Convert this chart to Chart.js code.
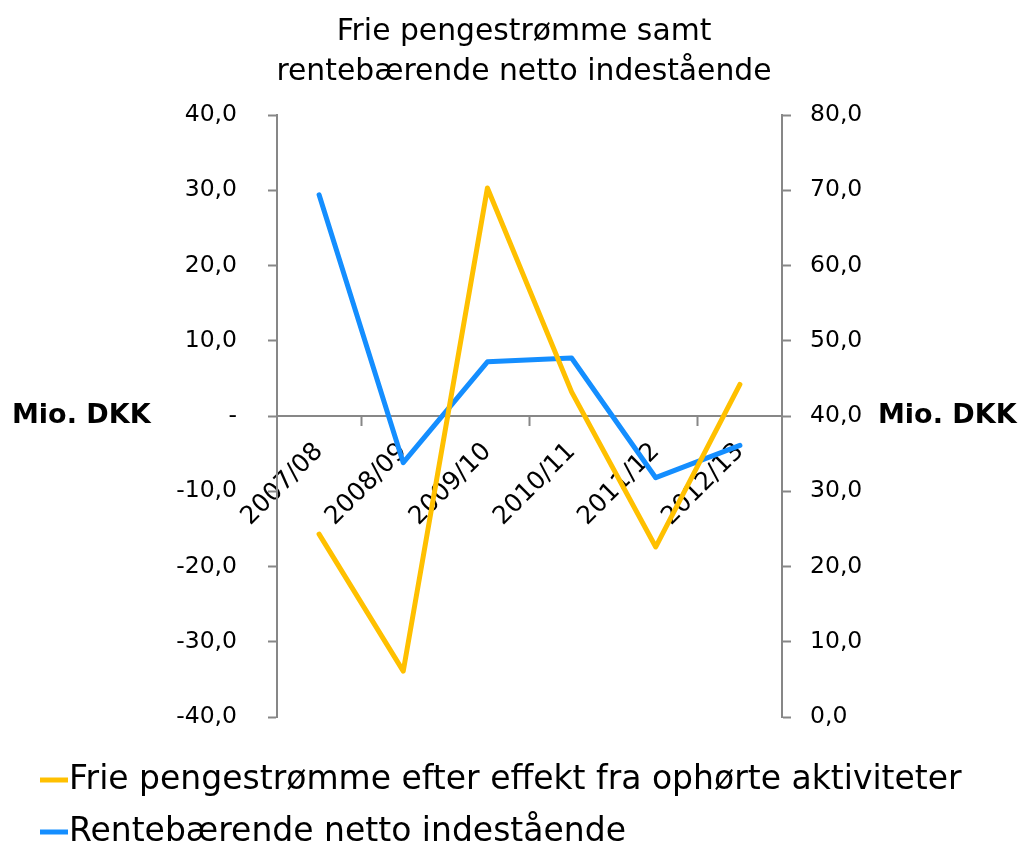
<!DOCTYPE html>
<html>
<head>
<meta charset="utf-8">
<script src="https://cdn.jsdelivr.net/npm/chart.js@4.4.1/dist/chart.umd.min.js"></script>
<style>
  html, body { margin: 0; padding: 0; background: #fff; }
  #wrap { width: 1023px; height: 853px; position: relative; }
</style>
</head>
<body>
<div id="wrap"><canvas id="chart" width="1023" height="853"></canvas></div>
<script>
// chart data
const categories = ['2007/08', '2008/09', '2009/10', '2010/11', '2011/12', '2012/13'];
const frieValues = [-15.7, -33.9, 30.3, 3.2, -17.4, 4.2];
const renteValues = [69.4, 33.8, 47.2, 47.7, 31.8, 36.1];
const seriesNames = ['Frie pengestrømme efter effekt fra ophørte aktiviteter', 'Rentebærende netto indestående'];
const titleLines = ['Frie pengestrømme samt', 'rentebærende netto indestående'];
const axisTitle = 'Mio. DKK';

const FONT = '"DejaVu Sans"';
const axisGray = '#878787';

function fmt(v) {
    return v.toFixed(1).replace('.', ',');
}

// title, axis titles and legend drawn as text on the canvas
const extras = {
    id: 'extras',
    afterDraw(chart) {
        const ctx = chart.ctx;
        const area = chart.chartArea;
        const y = chart.scales.y;
        const y1 = chart.scales.y1;
        ctx.save();
        ctx.fillStyle = '#000';

        ctx.font = '29.8px ' + FONT;
        ctx.textAlign = 'center';
        ctx.textBaseline = 'middle';
        titleLines.forEach((line, i) => ctx.fillText(line, 524, 32 + i * 40));

        ctx.font = 'bold 27px ' + FONT;
        ctx.textAlign = 'left';
        ctx.fillText(axisTitle, 12, y.getPixelForValue(0));
        ctx.fillText(axisTitle, area.right + 96, y1.getPixelForValue(40));

        ctx.font = '33px ' + FONT;
        chart.data.datasets.forEach((ds, i) => {
            const ly = 780 + i * 52;
            ctx.strokeStyle = ds.borderColor;
            ctx.lineWidth = 5;
            ctx.beginPath();
            ctx.moveTo(40, ly);
            ctx.lineTo(68, ly);
            ctx.stroke();
            ctx.fillText(ds.label, 69, ly);
        });
        ctx.restore();
    }
};

new Chart(document.getElementById('chart'), {
    type: 'line',
    data: {
        labels: categories,
        datasets: [
            {
                label: seriesNames[0],
                data: frieValues,
                yAxisID: 'y',
                borderColor: '#FFC000',
                backgroundColor: '#FFC000',
                borderWidth: 5,
                pointRadius: 0,
                tension: 0,
                borderCapStyle: 'round',
                borderJoinStyle: 'round'
            },
            {
                label: seriesNames[1],
                data: renteValues,
                yAxisID: 'y1',
                borderColor: '#148EFF',
                backgroundColor: '#148EFF',
                borderWidth: 5,
                pointRadius: 0,
                tension: 0,
                borderCapStyle: 'round',
                borderJoinStyle: 'round'
            }
        ]
    },
    options: {
        responsive: false,
        animation: false,
        layout: { padding: { top: 115, bottom: 136, left: 0, right: 0 } },
        plugins: {
            legend: { display: false },
            title: { display: false },
            tooltip: { enabled: false }
        },
        scales: {
            x: {
                position: { y: 0 },
                offset: true,
                grid: {
                    offset: true,
                    drawOnChartArea: false,
                    tickLength: 9,
                    tickWidth: 2,
                    tickColor: c => (c.index % 2 === 1 ? axisGray : 'rgba(0,0,0,0)')
                },
                border: { display: true, color: axisGray, width: 2 },
                ticks: {
                    color: '#000',
                    font: { family: FONT, size: 25 },
                    minRotation: 45,
                    maxRotation: 45,
                    autoSkip: false,
                    padding: 12
                }
            },
            y: {
                position: 'left',
                min: -40,
                max: 40,
                afterFit: s => { s.width = 277; },
                grid: { drawOnChartArea: false, tickLength: 9, tickWidth: 2, tickColor: axisGray },
                border: { display: true, color: axisGray, width: 2 },
                ticks: {
                    stepSize: 10,
                    padding: 31,
                    color: '#000',
                    font: { family: FONT, size: 23.5 },
                    callback: v => (v === 0 ? '-' : fmt(v))
                }
            },
            y1: {
                position: 'right',
                min: 0,
                max: 80,
                afterFit: s => { s.width = 241; },
                grid: { drawOnChartArea: false, tickLength: 9, tickWidth: 2, tickColor: axisGray },
                border: { display: true, color: axisGray, width: 2 },
                ticks: {
                    stepSize: 10,
                    padding: 19,
                    color: '#000',
                    font: { family: FONT, size: 23.5 },
                    callback: v => fmt(v)
                }
            }
        }
    },
    plugins: [extras]
});
</script>
</body>
</html>
